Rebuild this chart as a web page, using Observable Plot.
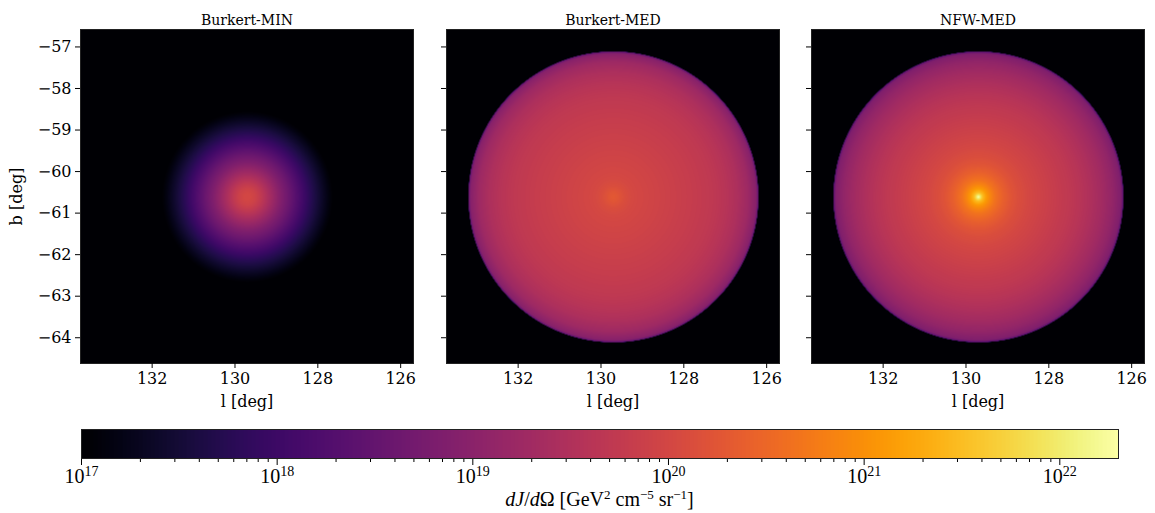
<!DOCTYPE html>
<html>
<head>
<meta charset="utf-8">
<script src="https://cdn.jsdelivr.net/npm/d3@7"></script>
<script src="https://cdn.jsdelivr.net/npm/@observablehq/plot@0.6"></script>
<style>
  body { margin: 0; background: #fff; }
  #fig { position: relative; width: 1155px; height: 513px; overflow: hidden; background: #fff; }
  #fig > svg { position: absolute; top: 0; }
  #cblabel {
    position: absolute; left: 81px; width: 1037px; top: 486px; text-align: center;
    font-family: "Liberation Serif", serif; font-size: 20px; color: #000; line-height: 26px;
  }
  #cblabel sup { font-size: 13px; vertical-align: 7px; line-height: 0; }
</style>
</head>
<body>
<div id="fig"></div>
<script>
// Panel titles and axis ticks
const panelTitles = ["Burkert-MIN", "Burkert-MED", "NFW-MED"];
const lTicks = [132, 130, 128, 126];
const bTicks = [-57, -58, -59, -60, -61, -62, -63, -64];

// Sky window (deg) shown in every panel, and the halo centre
const lRange = [125.69, 133.73];
const bRange = [-64.62, -56.58];
const centerL = 129.70;
const centerB = -60.61;

// Radial profiles of log10(dJ/dΩ) versus angular distance from the centre (deg)
const radiusDeg       = [0,     0.05,  0.1,   0.2,   0.3,   0.4,   0.6,   0.8,   1.0,   1.25,  1.5,   1.75,  2.0,   2.25,  2.5,   2.75,  3.0,   3.25,  3.45,  3.5,   3.52,  6];
const logJBurkertMin  = [20.0,  20.0,  19.98, 19.9,  19.76, 19.6,  19.25, 18.9,  18.6,  18.2,  17.8,  17.45, 17.1,  16.8,  16.5,  16.2,  16.0,  15.8,  15.6,  15.5,  15.5,  15.0];
const logJBurkertMed  = [20.3,  20.28, 20.25, 20.17, 20.1,  20.05, 20.0,  19.97, 19.94, 19.9,  19.86, 19.82, 19.78, 19.73, 19.67, 19.58, 19.45, 19.25, 18.95, 18.4,  15.0,  15.0];
const logJNfwMed      = [22.35, 21.9,  21.5,  21.1,  20.85, 20.65, 20.4,  20.22, 20.1,  20.0,  19.92, 19.84, 19.76, 19.68, 19.58, 19.45, 19.3,  19.1,  18.85, 18.3,  15.0,  15.0];
const panelProfiles = [logJBurkertMin, logJBurkertMed, logJNfwMed];

// Colour bar: decades (log10) and upper limit
const cbDecades = [17, 18, 19, 20, 21, 22];
const cbMinorMultipliers = [2, 3, 4, 5, 6, 7, 8, 9];
const cbLogMin = 17;
const cbLogMax = 22.3;

const colorOpts = {type: "log", scheme: "inferno", domain: [10 ** cbLogMin, 10 ** cbLogMax], clamp: true};

function profileAt(r, logs) {
  const n = radiusDeg.length;
  if (r >= radiusDeg[n - 1]) return logs[n - 1];
  const i = Math.max(0, d3.bisectRight(radiusDeg, r) - 1);
  const t = (r - radiusDeg[i]) / (radiusDeg[i + 1] - radiusDeg[i]);
  return logs[i] + t * (logs[i + 1] - logs[i]);
}

const fig = document.getElementById("fig");
const frameLefts = [80, 445.7, 811];
const frameW = 333;

panelTitles.forEach((title, i) => {
  const first = i === 0;
  const ml = first ? 80 : 20;
  const logs = panelProfiles[i];
  const svg = Plot.plot({
    width: ml + frameW + 10,
    height: 420,
    marginLeft: ml,
    marginRight: 10,
    marginTop: 29,
    marginBottom: 57,
    style: {fontFamily: "'DejaVu Serif', serif", fontSize: "16px", color: "#000", background: "transparent"},
    x: {domain: lRange, reverse: true},
    y: {domain: bRange},
    color: colorOpts,
    marks: [
      Plot.raster({
        x1: lRange[0], x2: lRange[1], y1: bRange[0], y2: bRange[1],
        pixelSize: 1,
        fill: (l, b) => 10 ** profileAt(Math.hypot(l - centerL, b - centerB), logs)
      }),
      Plot.frame({stroke: "#222"}),
      Plot.axisX({
        ticks: lTicks, tickSize: 5, tickPadding: 4, tickFormat: (d) => String(d),
        label: "l [deg]", labelAnchor: "center", labelOffset: 43, labelArrow: "none"
      }),
      Plot.axisY({
        ticks: bTicks, tickSize: 5, tickPadding: 4,
        tickFormat: first ? (d) => "\u2212" + Math.abs(d) : () => "",
        label: first ? "b [deg]" : null, labelAnchor: "center", labelOffset: 70, labelArrow: "none"
      }),
      Plot.text([title], {text: (d) => d, frameAnchor: "top", dy: -14, fontSize: 14})
    ]
  });
  svg.style.left = (frameLefts[i] - ml) + "px";
  fig.appendChild(svg);
});

// Colour bar drawn with the same colour scale, along log10(dJ/dΩ)
const cbMinor = [];
for (const k of cbDecades) for (const m of cbMinorMultipliers) {
  const v = k + Math.log10(m);
  if (v < cbLogMax) cbMinor.push(v);
}

const cb = Plot.plot({
  width: 1155,
  height: 103,
  marginLeft: 81,
  marginRight: 37,
  marginTop: 19,
  marginBottom: 55,
  style: {fontFamily: "'Liberation Serif', serif", fontSize: "20px", color: "#000", background: "transparent"},
  x: {domain: [cbLogMin, cbLogMax]},
  y: {domain: [0, 1], axis: null},
  color: colorOpts,
  marks: [
    Plot.raster({x1: cbLogMin, x2: cbLogMax, y1: 0, y2: 1, pixelSize: 1, fill: (x) => 10 ** x}),
    Plot.axisX({ticks: cbMinor, tickSize: 4, tickFormat: () => "", label: null}),
    Plot.axisX({ticks: cbDecades, tickSize: 7, tickPadding: 3, tickFormat: (k) => "10^" + k, label: null}),
    Plot.frame({stroke: "#222"})
  ]
});

// Typeset "10^k" tick labels with a raised exponent
d3.select(cb).selectAll("text").each(function () {
  const s = this.textContent;
  if (!s.includes("^")) return;
  const [base, exp] = s.split("^");
  const t = d3.select(this);
  t.text(null);
  t.append("tspan").text(base);
  t.append("tspan").attr("dy", "-0.45em").attr("font-size", "14px").text(exp);
});

cb.style.top = "410px";
cb.style.left = "0px";
fig.appendChild(cb);

const lab = document.createElement("div");
lab.id = "cblabel";
lab.innerHTML = "<i>dJ</i>/<i>d</i>\u03A9 [GeV<sup>2</sup> cm<sup>\u22125</sup> sr<sup>\u22121</sup>]";
fig.appendChild(lab);
</script>
</body>
</html>
